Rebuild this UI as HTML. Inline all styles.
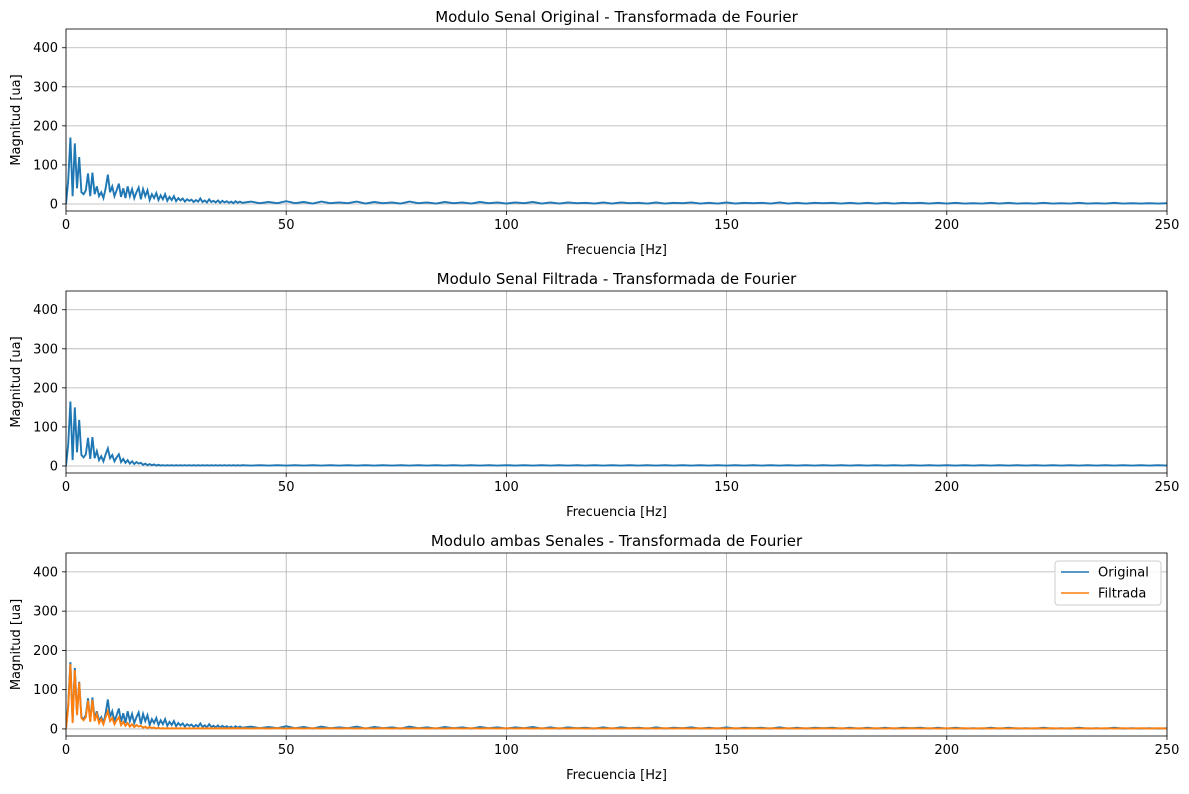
<!DOCTYPE html>
<html><head><meta charset="utf-8"><style>
body{margin:0;background:#fff;font-family:"Liberation Sans","DejaVu Sans",sans-serif}
svg text{font-family:"DejaVu Sans","Liberation Sans",sans-serif;fill:#000}
</style></head><body>
<svg id="fig" width="1189" height="789" xmlns="http://www.w3.org/2000/svg"></svg>
<script>
const xTicks=[0,50,100,150,200,250];
const yTicks=[0,100,200,300,400];
const titles=["Modulo Senal Original - Transformada de Fourier","Modulo Senal Filtrada - Transformada de Fourier","Modulo ambas Senales - Transformada de Fourier"];
const lowStep=0.5;
const origLow=[0,60,170,20,155,40,120,30,25,35,78,20,80,25,45,20,30,15,40,75,30,45,20,35,52,18,40,15,45,20,38,15,30,42,12,38,20,35,10,25,15,28,10,22,12,25,8,18,10,20,7,15,9,14,6,12,8,11,5,10,6,14,5,9,4,12,5,8,4,9,3,8,4,7,3,6,2,7,3,6,3];
const origTail=[6,2,5,2,7,2,5,1,6,2,4,2,6,1,5,2,4,1,6,2,4,1,5,2,4,1,5,2,4,1,4,2,5,1,4,1,4,2,3,1,4,1,4,2,3,1,4,1,3,2,4,1,3,1,4,1,3,2,3,1,4,1,3,1,3,2,3,1,3,1,3,1,3,1,3,2,3,1,3,1,3,1,2,1,3,1,3,1,2,1,3,1,2,1,3,1,2,1,3,1,2,1,2,1,2];
const filtLow=[0,55,165,15,150,35,118,28,22,30,72,18,74,20,38,15,25,12,30,45,20,28,12,22,30,10,18,8,15,6,12,5,10,6,8,3,6,2,5,2,4,1,3,1,2,1,2,1,2,1,2,1,2,1,2,1,2,1,2,1,2,1,2,1,2,1,2,1,2,1,2,1,2,1,2,1,2,1,2,1,2];
const filtTail=[1,2,1,2,1,2,1,2,1,2,1,2,1,2,1,2,1,2,1,2,1,2,1,2,1,2,1,2,1,2,1,2,1,2,1,2,1,2,1,2,1,2,1,2,1,2,1,2,1,2,1,2,1,2,1,2,1,2,1,2,1,2,1,2,1,2,1,2,1,2,1,2,1,2,1,2,1,2,1,2,1,2,1,2,1,2,1,2,1,2,1,2,1,2,1,2,1,2,1,2,1,2,1,2,1];
const tailStart=42, tailStep=2;
const yMin=-18,yMax=448,xMax=250;
const axes=[{top:29,bot:211},{top:291,bot:473},{top:553,bot:736}];
const L=66,R=1167;
const svg=document.getElementById('fig');
const NS='http://www.w3.org/2000/svg';
function mk(t,a,p){const e=document.createElementNS(NS,t);for(const k in a)e.setAttribute(k,a[k]);(p||svg).appendChild(e);return e;}
function series(low,tail){const pts=[];low.forEach((v,i)=>pts.push([i*lowStep,v]));tail.forEach((v,i)=>pts.push([tailStart+i*tailStep,v]));return pts;}
const sOrig=series(origLow,origTail), sFilt=series(filtLow,filtTail);
axes.forEach((ax,k)=>{
  const g=mk('g',{});
  
  
  const sx=v=>L+(v/xMax)*(R-L);
  const sy=v=>ax.bot-(v-yMin)/(yMax-yMin)*(ax.bot-ax.top);
  xTicks.forEach(t=>{
    const l=mk('line',{x1:sx(t),x2:sx(t),y1:ax.top,y2:ax.bot,stroke:'#b0b0b0','stroke-width':0.8},g);
    
    mk('line',{x1:sx(t),x2:sx(t),y1:ax.bot,y2:ax.bot+4,stroke:'#000','stroke-width':0.8},g);
    const tx=mk('text',{x:sx(t),y:ax.bot+18,'text-anchor':'middle','font-size':13},g);tx.textContent=t;
    
  });
  yTicks.forEach(t=>{
    const l=mk('line',{x1:L,x2:R,y1:sy(t),y2:sy(t),stroke:'#b0b0b0','stroke-width':0.8},g);
    
    mk('line',{x1:L-4,x2:L,y1:sy(t),y2:sy(t),stroke:'#000','stroke-width':0.8},g);
    const tx=mk('text',{x:L-8,y:sy(t)+4.5,'text-anchor':'end','font-size':13},g);tx.textContent=t;
    
  });
  const clip=mk('clipPath',{id:'c'+k},g);mk('rect',{x:L,y:ax.top,width:R-L,height:ax.bot-ax.top},clip);
  const draw=(s,c,name)=>{const p=mk('polyline',{points:s.map(d=>sx(d[0])+','+sy(d[1])).join(' '),fill:'none',stroke:c,'stroke-width':1.9,'clip-path':'url(#c'+k+')'},g);
    };
  if(k===0)draw(sOrig,'#1f77b4','original-spectrum-line');
  if(k===1)draw(sFilt,'#1f77b4','filtered-spectrum-line');
  if(k===2){draw(sOrig,'#1f77b4','original-spectrum-line');draw(sFilt,'#ff7f0e','filtered-spectrum-line');}
  const fr=mk('rect',{x:L,y:ax.top,width:R-L,height:ax.bot-ax.top,fill:'none',stroke:'#000','stroke-width':0.8},g);
  
  const ti=mk('text',{x:(L+R)/2,y:ax.top-7,'text-anchor':'middle','font-size':15},g);ti.textContent=titles[k];
  
  const xl=mk('text',{x:(L+R)/2,y:ax.bot+43,'text-anchor':'middle','font-size':13},g);xl.textContent='Frecuencia [Hz]';
  
  const cy=(ax.top+ax.bot)/2;
  const yl=mk('text',{x:20,y:cy,'text-anchor':'middle','font-size':13,transform:'rotate(-90 20 '+cy+')'},g);yl.textContent='Magnitud [ua]';
  
  if(k===2){
    const lg=mk('g',{},g);
    
    mk('rect',{x:1055,y:561,width:106,height:44,rx:3,fill:'#fff',stroke:'#ccc','stroke-width':1,'fill-opacity':0.8},lg);
    [['Original','#1f77b4',572],['Filtrada','#ff7f0e',593]].forEach(e=>{
      const en=mk('g',{},lg);
      
      mk('line',{x1:1061,x2:1089,y1:e[2],y2:e[2],stroke:e[1],'stroke-width':1.6},en);
      const t=mk('text',{x:1098,y:e[2]+4.5,'font-size':13},en);t.textContent=e[0];
    });
  }
});
</script>
</body></html>
